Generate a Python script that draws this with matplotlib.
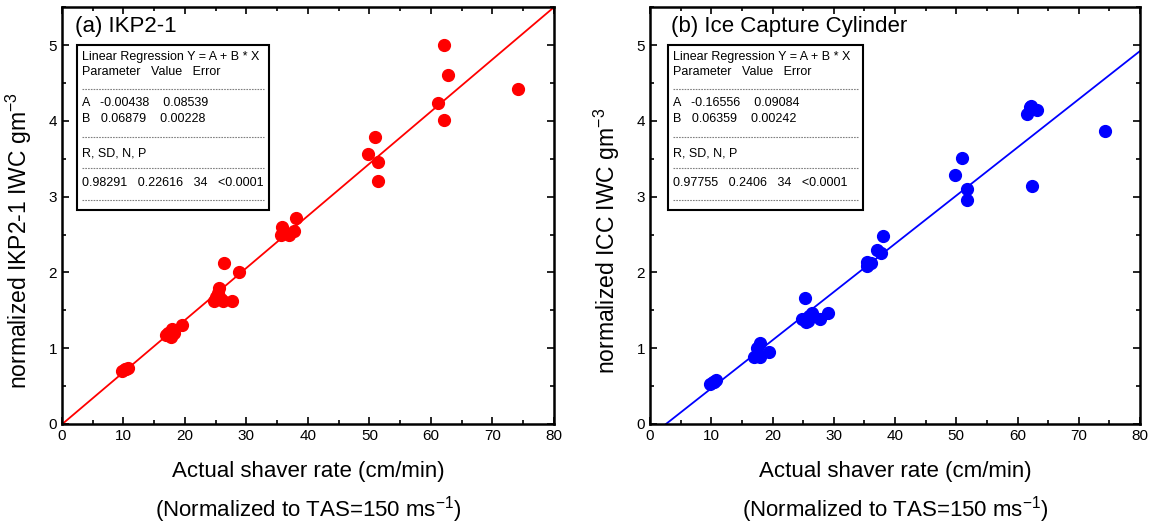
import matplotlib.pyplot as plt
from matplotlib.lines import Line2D
from matplotlib.patches import Rectangle
from matplotlib.ticker import MultipleLocator

plt.rcParams['font.family'] = ['Liberation Sans', 'DejaVu Sans']
plt.rcParams['mathtext.fontset'] = 'custom'
plt.rcParams['mathtext.rm'] = 'Liberation Sans'
plt.rcParams['mathtext.it'] = 'Liberation Sans'

# IKP2-1 panel (a)
rate_a = [62.1, 62.8, 74.1, 61.2, 62.2, 50.9, 49.8, 51.4, 51.4, 38.1,
          35.7, 37.7, 36.9, 35.6, 36.0, 26.3, 28.8, 25.6, 25.3, 25.0,
          24.7, 26.2, 27.6, 25.8, 19.5, 17.9, 16.9, 17.8, 18.2, 17.2,
          10.4, 9.8, 10.7, 10.2]
iwc_a = [5.00, 4.60, 4.42, 4.23, 4.01, 3.79, 3.56, 3.46, 3.21, 2.72,
         2.60, 2.54, 2.50, 2.49, 2.55, 2.13, 2.00, 1.79, 1.73, 1.68,
         1.62, 1.62, 1.62, 1.65, 1.31, 1.25, 1.18, 1.15, 1.20, 1.20,
         0.73, 0.70, 0.74, 0.72]

# Ice Capture Cylinder panel (b)
rate_b = [62.2, 61.5, 63.1, 62.0, 74.3, 50.9, 49.8, 51.7, 51.7, 62.4,
          38.1, 37.0, 37.7, 35.5, 35.4, 36.0, 25.3, 24.8, 25.5, 26.4,
          27.7, 29.0, 25.8, 26.0, 18.0, 17.4, 16.9, 17.9, 19.5, 17.6,
          10.3, 9.8, 10.8, 10.5]
iwc_b = [4.20, 4.09, 4.14, 4.18, 3.87, 3.51, 3.28, 3.10, 2.96, 3.14,
         2.48, 2.30, 2.26, 2.14, 2.08, 2.12, 1.66, 1.38, 1.34, 1.46,
         1.38, 1.47, 1.36, 1.42, 1.07, 1.00, 0.89, 0.89, 0.95, 0.92,
         0.56, 0.53, 0.58, 0.56]

fit_a = (-0.00438, 0.06879)
fit_b = (-0.16556, 0.06359)

box_a = ["Linear Regression Y = A + B * X", "Parameter   Value   Error", None,
         "A   -0.00438    0.08539", "B   0.06879    0.00228", None,
         "R, SD, N, P", None, "0.98291   0.22616   34   <0.0001", None]
box_b = ["Linear Regression Y = A + B * X", "Parameter   Value   Error", None,
         "A   -0.16556    0.09084", "B   0.06359    0.00242", None,
         "R, SD, N, P", None, "0.97755   0.2406   34   <0.0001", None]

fig = plt.figure(figsize=(11.54, 5.23), dpi=100)
ax1 = fig.add_axes([0.0537, 0.1893, 0.4263, 0.797])
ax2 = fig.add_axes([0.5633, 0.1893, 0.4246, 0.797])

row_y = [57, 72, 89, 103, 119, 137, 153, 168, 183, 200]


def panel(ax, x, y, fit, color, title, tx, ylabel, box, bx0, bx1):
    ax.plot(x, y, 'o', color=color, ms=8.5, mec=color)
    xs = [0, 80]
    if fit[0] < 0:
        xs[0] = -fit[0] / fit[1]
    ax.plot(xs, [fit[0] + fit[1] * v for v in xs], '-', color=color, lw=1.3)
    ax.set_xlim(0, 80)
    ax.set_ylim(0, 5.5)
    ax.xaxis.set_major_locator(MultipleLocator(10))
    ax.xaxis.set_minor_locator(MultipleLocator(5))
    ax.yaxis.set_major_locator(MultipleLocator(1))
    ax.yaxis.set_minor_locator(MultipleLocator(0.5))
    ax.tick_params(which='both', direction='in', top=True, right=True,
                   labelsize=11, width=1.2)
    ax.tick_params(which='major', length=5)
    ax.tick_params(which='minor', length=3)
    for s in ax.spines.values():
        s.set_linewidth(1.8)
    ax.set_xlabel("Actual shaver rate (cm/min)", fontsize=16, labelpad=13)
    ax.text(0.5, -0.205, "(Normalized to TAS=150 ms$^{-1}$)", fontsize=16,
            ha='center', va='center', transform=ax.transAxes)
    ax.set_ylabel(ylabel, fontsize=16.5)
    ax.yaxis.set_label_coords(-0.057, 0.44)
    ax.text(tx, 0.953, title, fontsize=16, ha='left', va='center',
            transform=ax.transAxes)
    # stats box
    top = (424 - 45) / 417
    bot = (424 - 210) / 417
    ax.add_patch(Rectangle((bx0, bot), bx1 - bx0, top - bot, fill=True,
                           fc='white', ec='black', lw=1.5,
                           transform=ax.transAxes, zorder=5))
    for line, py in zip(box, row_y):
        yy = (424 - py) / 417
        if line is None:
            ax.add_line(Line2D([bx0 + 0.01, bx1 - 0.01], [yy, yy],
                               color='gray', lw=0.8, ls=(0, (1.5, 1)),
                               transform=ax.transAxes, zorder=6))
        else:
            ax.text(bx0 + 0.01, yy, line, fontsize=9, ha='left', va='center',
                    transform=ax.transAxes, zorder=6)


panel(ax1, rate_a, iwc_a, fit_a, '#ff0000', "(a) IKP2-1", 0.027,
      "normalized IKP2-1 IWC gm$^{-3}$", box_a, 0.0305, 0.421)
panel(ax2, rate_b, iwc_b, fit_b, '#0000ff', "(b) Ice Capture Cylinder", 0.043,
      "normalized ICC IWC gm$^{-3}$", box_b, 0.0367, 0.435)

fig.savefig("out.png", dpi=100)
